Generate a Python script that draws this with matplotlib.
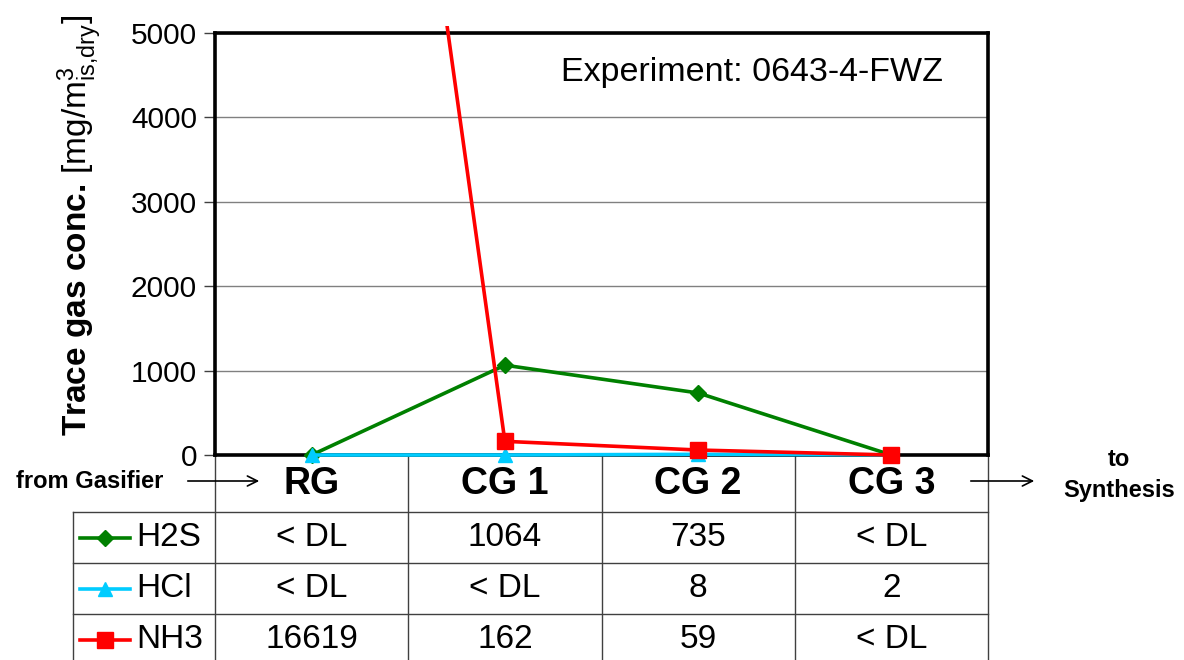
import numpy as np
import matplotlib.pyplot as plt
from matplotlib.patches import Rectangle, FancyArrowPatch
from matplotlib.transforms import blended_transform_factory

categories = ["RG", "CG 1", "CG 2", "CG 3"]
species = ["H2S", "HCl", "NH3"]
h2s = [0, 1064, 735, 0]
hcl = [0, 0, 8, 2]
nh3 = [16619, 162, 59, 0]
h2s_text = ["< DL", "1064", "735", "< DL"]
hcl_text = ["< DL", "< DL", "8", "2"]
nh3_text = ["16619", "162", "59", "< DL"]
yticks = [0, 1000, 2000, 3000, 4000, 5000]

series = [h2s, hcl, nh3]
cell_texts = [h2s_text, hcl_text, nh3_text]
colors = ["#008000", "#00CCFF", "#FF0000"]
markers = ["D", "^", "s"]
msizes = [8, 10, 11]

plt.rcParams["font.family"] = "Liberation Sans"
plt.rcParams["mathtext.fontset"] = "custom"
plt.rcParams["mathtext.rm"] = "Liberation Sans"
plt.rcParams["mathtext.bf"] = "Liberation Sans:bold"
plt.rcParams["mathtext.it"] = "Liberation Sans:italic"

W, H = 1184, 660
fig = plt.figure(figsize=(W / 100, H / 100), dpi=100)
# plot area in pixels: left 215, right 988, top 33, bottom 455
ax = fig.add_axes([215 / W, 1 - 455 / H, 773 / W, 422 / H])


def ay(py):
    # figure pixel row -> axes fraction
    return (455 - py) / 422


x = np.arange(len(categories)) + 0.5
ax.set_xlim(0, len(categories))
ax.set_ylim(0, 5000)

clip = Rectangle((0, -0.03), 1, 1.047, transform=ax.transAxes)
for i, vals in enumerate(series):
    ln, = ax.plot(x, vals, color=colors[i], marker=markers[i], ms=msizes[i],
                  lw=2.6, zorder=3 + i)
    ln.set_clip_path(clip)

for s in ax.spines.values():
    s.set_linewidth(2.6)
    s.set_color("black")
ax.set_xticks([])
ax.set_yticks(yticks)
ax.tick_params(axis="y", direction="out", length=8, width=1, color="#404040",
               labelsize=21.5, pad=5)
ax.yaxis.grid(True, color="#808080", lw=1)
ax.set_axisbelow(True)

ax.text(0.942, ay(72), "Experiment: 0643-4-FWZ", transform=ax.transAxes,
        fontsize=24.5, ha="right", va="center")

fig.text(80 / W, 1 - 225 / H,
         r"$\mathbf{Trace\ gas\ conc.}\,$[mg/m$^{3}_{\mathrm{is{,}dry}}$]",
         rotation=90, fontsize=24, ha="center", va="center")

# table below the plot
trans = blended_transform_factory(ax.transData, ax.transAxes)
line_kw = dict(transform=trans, clip_on=False, color="#404040", lw=1)
x0 = (73 - 215) / 193
for xi in range(len(categories) + 1):
    ax.plot([xi, xi], [0, ay(670)], **line_kw)
for py in [512, 563, 614]:
    ax.plot([x0, len(categories)], [ay(py), ay(py)], **line_kw)
ax.plot([x0, x0], [ay(512), ay(670)], **line_kw)

for xi, cat in zip(x, categories):
    ax.text(xi, ay(484), cat, transform=trans, fontsize=27, fontweight="bold",
            ha="center", va="center")

row_centers = [537.5, 588.5, 639.5]
for i, name in enumerate(species):
    yc = ay(row_centers[i])
    ax.plot([-0.70, -0.44], [yc, yc], transform=trans, clip_on=False,
            color=colors[i], lw=2.6)
    ax.plot([-0.57], [yc], transform=trans, clip_on=False, color=colors[i],
            marker=markers[i], ms=msizes[i], lw=0)
    ax.text(-0.41, yc, name, transform=trans, fontsize=24, ha="left",
            va="center")
    for xi, txt in zip(x, cell_texts[i]):
        ax.text(xi, yc, txt, transform=trans, fontsize=24, ha="center",
                va="center")

# flow labels
fig.text(90 / W, 1 - 481 / H, "from Gasifier", fontsize=17, fontweight="bold",
         ha="center", va="center")
fig.text(1119 / W, 1 - 459 / H, "to", fontsize=17, fontweight="bold",
         ha="center", va="center")
fig.text(1119 / W, 1 - 490 / H, "Synthesis", fontsize=17, fontweight="bold",
         ha="center", va="center")
arrow_kw = dict(arrowstyle="->", lw=1.2, color="black", mutation_scale=18)
fig.add_artist(FancyArrowPatch((185 / W, 1 - 481 / H), (262 / W, 1 - 481 / H),
                               transform=fig.transFigure, **arrow_kw))
fig.add_artist(FancyArrowPatch((968 / W, 1 - 481 / H), (1037 / W, 1 - 481 / H),
                               transform=fig.transFigure, **arrow_kw))

fig.savefig("out.png", dpi=100)
